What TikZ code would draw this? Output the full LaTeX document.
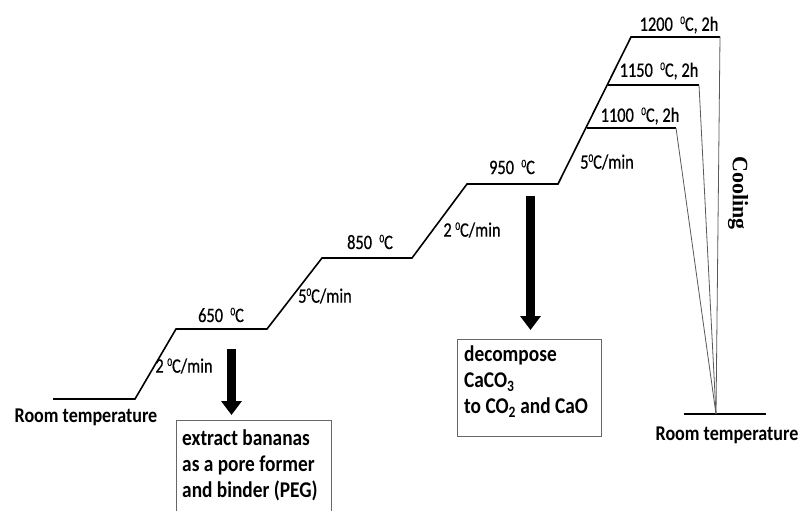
\documentclass[tikz,border=0pt]{standalone}
\usepackage{fontspec}
\setmainfont{Carlito}[FakeStretch=0.86]
\newfontfamily\lblfont{Carlito}[FakeStretch=0.80, FakeBold=0.5]
\newfontfamily\coolfont{Liberation Serif}
\usetikzlibrary{arrows.meta}
\newcommand{\dg}{\raisebox{0.33em}{\fontsize{11.5}{12}\selectfont 0}}
\begin{document}
\begin{tikzpicture}[x=1pt,y=-1pt,
  curve/.style={line width=1.6pt, black},
  cool/.style={line width=0.8pt, black!65},
  lbl/.style={inner sep=0pt, font=\lblfont\fontsize{20.5}{22}\selectfont},
  rt/.style={inner sep=0pt, font=\bfseries\fontsize{21}{24}\selectfont},
  boxtext/.style={inner sep=0pt, anchor=north west, align=left, font=\bfseries\fontsize{22.5}{26}\selectfont},
  boxframe/.style={draw=black!60, line width=0.9pt, fill=none, inner sep=0pt},
  bigarrow/.style={draw=black, line width=9pt, -{Triangle[width=20pt,length=14pt]}}
]
\clip (0,0) rectangle (801,511);
\fill[white] (0,0) rectangle (801,511);
% stepped heating profile
\coordinate (r0) at (53,399);
\coordinate (r1) at (135,399);
\coordinate (p650a) at (176,329);
\coordinate (p650b) at (267,329);
\coordinate (p850a) at (322,258);
\coordinate (p850b) at (412,258);
\coordinate (p950a) at (467,184);
\coordinate (p950b) at (558,184);
\coordinate (p1100a) at (587,128);
\coordinate (p1100b) at (676,128);
\coordinate (p1150a) at (608,85);
\coordinate (p1150b) at (699,85);
\coordinate (p1200a) at (631,37);
\coordinate (p1200b) at (720,37);
\coordinate (apex) at (716,414);
\coordinate (rEa) at (684,414);
\coordinate (rEb) at (766,414);

\draw[curve] (r0) -- (r1) -- (p650a) -- (p650b) -- (p850a) -- (p850b) -- (p950a) -- (p950b) -- (p1200a) -- (p1200b);
\draw[curve] (p1150a) -- (p1150b);
\draw[curve] (p1100a) -- (p1100b);
\draw[curve] (rEa) -- (rEb);
\draw[cool] (p1200b) -- (apex);
\draw[cool] (p1150b) -- (apex);
\draw[cool] (p1100b) -- (apex);

% labels
\node[rt] (rtl) at (86,417) {Room temperature};
\node[rt] (rtr) at (727,435) {Room temperature};
\node[lbl] (l650) at (221,315) {650\ \ \dg C};
\node[lbl] (r1lbl) at (184,366) {2 \dg C/min};
\node[lbl] (r2lbl) at (325,296) {5\dg C/min};
\node[lbl] (l850) at (370,242) {850\ \ \dg C};
\node[lbl] (r3lbl) at (472,230) {2 \dg C/min};
\node[lbl] (l950) at (512,167) {950\ \ \dg C};
\node[lbl] (r4lbl) at (607,162) {5\dg C/min};
\node[lbl] (l1200) at (679,25) {1200\ \ \dg C, 2h};
\node[lbl] (l1150) at (659,71) {1150\ \ \dg C, 2h};
\node[lbl] (l1100) at (640,116) {1100\ \ \dg C, 2h};
\node[inner sep=0pt, rotate=-90, font=\coolfont\bfseries\fontsize{22}{24}\selectfont] (cooling) at (738,193) {Cooling};

% boxes
\node[boxframe, anchor=north west, minimum width=155pt, minimum height=110pt] (box1) at (176,420) {};
\node[boxtext] (t1) at (182,430) {extract bananas\\as a pore former\\and binder (PEG)};
\node[boxframe, anchor=north west, minimum width=144pt, minimum height=97pt] (box2) at (457,339) {};
\node[boxtext] (t2) at (464,346) {decompose\\CaCO\textsubscript{3}\\to CO\textsubscript{2} and CaO};

% arrows
\coordinate (a1s) at (231.5,349);
\coordinate (a1e) at (231.5,415);
\coordinate (a2s) at (530.5,196);
\coordinate (a2e) at (530.5,330);
\draw[bigarrow] (a1s) -- (a1e);
\draw[bigarrow] (a2s) -- (a2e);
\end{tikzpicture}
\end{document}
